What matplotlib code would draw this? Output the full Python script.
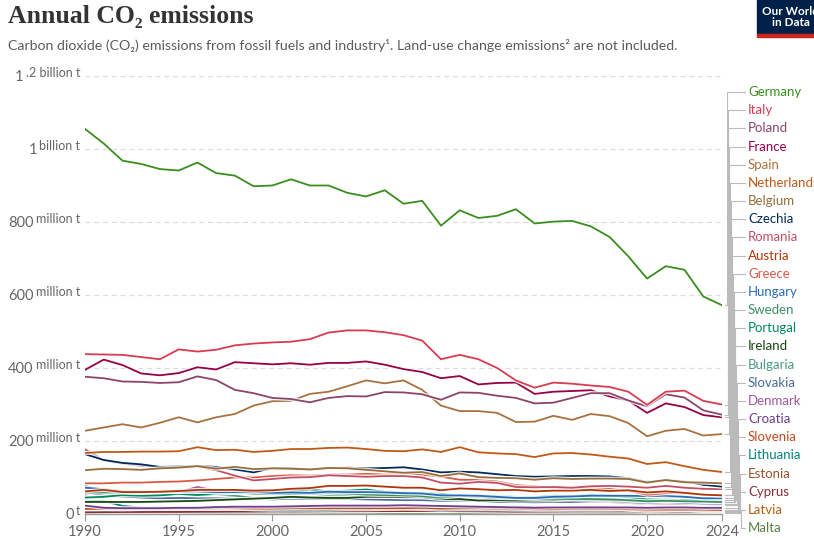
import matplotlib
matplotlib.use("Agg")
import matplotlib.pyplot as plt
import matplotlib.patheffects as pe
from matplotlib.lines import Line2D
from matplotlib.patches import Rectangle

years = list(range(1990, 2025))

# annual CO2 emissions, million tonnes
germany = [1055, 1015, 968, 959, 945, 941, 963, 934, 927, 898,
           900, 917, 900, 900, 880, 870, 887, 850, 858, 790,
           832, 811, 817, 835, 796, 801, 803, 788, 759, 706,
           645, 679, 669, 596, 572]
italy = [438, 437, 436, 430, 424, 451, 445, 450, 462, 467,
         470, 472, 479, 497, 503, 503, 498, 490, 475, 424,
         436, 424, 400, 366, 346, 360, 357, 352, 348, 335,
         299, 335, 338, 310, 300]
poland = [376, 372, 363, 362, 359, 361, 377, 367, 340, 331,
          318, 315, 306, 318, 323, 322, 334, 333, 328, 313,
          333, 332, 324, 318, 303, 305, 318, 331, 331, 311,
          295, 328, 319, 284, 272]
france = [395, 423, 408, 385, 380, 386, 402, 396, 416, 413,
          410, 413, 409, 414, 414, 418, 409, 397, 389, 372,
          378, 355, 359, 360, 329, 335, 337, 339, 322, 311,
          277, 303, 293, 271, 265]
spain = [228, 237, 246, 237, 250, 265, 251, 265, 274, 297,
         309, 310, 329, 335, 350, 366, 358, 366, 340, 297,
         282, 282, 277, 252, 253, 269, 258, 274, 268, 249,
         213, 228, 233, 215, 219]
netherlands = [167, 170, 170, 171, 171, 172, 183, 175, 176, 170,
               173, 178, 178, 181, 182, 178, 173, 172, 177, 170,
               183, 169, 166, 164, 156, 166, 167, 163, 157, 152,
               137, 142, 131, 121, 115]
belgium = [120, 124, 123, 121, 125, 127, 131, 124, 129, 123,
           125, 124, 122, 126, 125, 121, 117, 113, 115, 104,
           111, 101, 99, 98, 94, 98, 96, 97, 97, 96,
           86, 93, 87, 86, 84]
czechia = [164, 148, 140, 136, 129, 130, 132, 129, 122, 114,
           126, 126, 122, 126, 127, 125, 126, 128, 122, 114,
           116, 114, 109, 104, 102, 103, 104, 104, 103, 98,
           88, 93, 89, 80, 75]
romania = [177, 147, 138, 132, 128, 128, 130, 120, 105, 92,
           96, 100, 101, 106, 104, 102, 104, 104, 100, 86,
           83, 88, 85, 74, 73, 74, 72, 76, 77, 75,
           72, 77, 72, 69, 68]
austria = [62, 66, 60, 60, 61, 63, 66, 66, 66, 64,
           65, 69, 71, 77, 77, 78, 75, 72, 72, 65,
           70, 68, 65, 66, 62, 64, 64, 66, 63, 65,
           59, 62, 58, 53, 51]
greece = [84, 84, 86, 86, 88, 89, 92, 96, 100, 100,
          104, 106, 105, 108, 108, 110, 108, 112, 108, 102,
          94, 93, 89, 79, 76, 71, 68, 71, 69, 63,
          53, 57, 57, 53, 51]
hungary = [72, 68, 62, 62, 60, 61, 62, 60, 60, 61,
           58, 59, 58, 61, 60, 60, 59, 57, 56, 51,
           51, 50, 47, 44, 44, 47, 48, 50, 50, 50,
           49, 50, 47, 43, 43]
sweden = [59, 59, 59, 58, 61, 60, 63, 58, 59, 56,
          55, 55, 56, 57, 56, 53, 52, 51, 49, 45,
          50, 47, 44, 43, 41, 42, 41, 41, 40, 38,
          35, 36, 35, 34, 33]
portugal = [45, 47, 52, 50, 51, 55, 52, 55, 58, 64,
            63, 63, 67, 62, 64, 67, 61, 59, 57, 55,
            50, 49, 48, 47, 46, 50, 49, 53, 50, 46,
            40, 38, 39, 35, 34]
ireland = [33, 33, 33, 33, 34, 35, 36, 38, 40, 42,
           44, 47, 45, 44, 44, 47, 47, 46, 46, 41,
           41, 37, 38, 37, 37, 38, 40, 39, 38, 37,
           34, 36, 36, 33, 32]
bulgaria = [78, 58, 55, 56, 54, 56, 56, 53, 50, 44,
            45, 48, 46, 50, 50, 51, 52, 56, 53, 45,
            47, 53, 48, 42, 45, 48, 45, 48, 44, 43,
            38, 43, 49, 38, 37]
slovakia = [60, 52, 48, 45, 43, 44, 43, 43, 42, 42,
            40, 42, 41, 41, 41, 40, 39, 38, 38, 36,
            37, 36, 33, 33, 32, 33, 33, 35, 35, 33,
            30, 33, 31, 29, 28]
denmark = [53, 63, 57, 59, 63, 60, 74, 64, 60, 57,
           53, 54, 54, 59, 53, 50, 58, 54, 51, 48,
           49, 44, 40, 42, 37, 35, 36, 33, 33, 30,
           28, 29, 28, 27, 26]
croatia = [23, 17, 16, 16, 16, 17, 17, 19, 20, 20,
           20, 21, 22, 23, 23, 23, 23, 24, 23, 22,
           21, 20, 19, 18, 17, 18, 18, 18, 18, 18,
           17, 18, 18, 17, 17]
slovenia = [14, 14, 13, 14, 14, 15, 15, 16, 16, 15,
            15, 16, 16, 16, 16, 16, 16, 16, 17, 15,
            16, 16, 15, 15, 13, 13, 14, 14, 14, 13,
            12, 12, 12, 12, 11]
lithuania = [36, 36, 22, 17, 15, 15, 15, 14, 15, 13,
             12, 12, 12, 12, 13, 13, 14, 15, 14, 12,
             13, 13, 13, 12, 12, 12, 12, 12, 12, 13,
             13, 13, 12, 12, 12]
estonia = [36, 34, 23, 18, 19, 17, 18, 17, 16, 15,
           15, 15, 15, 17, 17, 17, 16, 20, 18, 15,
           19, 19, 18, 20, 19, 16, 17, 19, 18, 12,
           9, 10, 12, 8, 8]
cyprus = [4.6, 5.0, 5.4, 5.5, 5.7, 5.6, 6.0, 6.1, 6.4, 6.5,
          7.0, 6.8, 7.0, 7.5, 7.6, 7.7, 7.8, 8.0, 8.2, 8.0,
          7.7, 7.4, 6.9, 6.3, 6.6, 6.7, 7.0, 7.1, 7.0, 7.0,
          6.5, 6.7, 6.8, 6.7, 6.7]
latvia = [19, 18, 14, 11, 10, 9, 9, 8.5, 8, 7.5,
          7, 7.3, 7.2, 7.5, 7.5, 7.6, 8, 8.3, 8, 7.5,
          8.3, 7.7, 7.5, 7.5, 7.2, 7.2, 7.2, 7.3, 7.8, 7.5,
          6.9, 7.1, 6.8, 6.4, 6.3]
malta = [2.3, 2.4, 2.5, 2.6, 2.6, 2.5, 2.5, 2.6, 2.5, 2.5,
         2.4, 2.5, 2.6, 2.7, 2.7, 2.8, 2.7, 2.8, 2.8, 2.6,
         2.6, 2.6, 2.7, 2.4, 2.3, 1.6, 1.5, 1.6, 1.6, 1.7,
         1.6, 1.6, 1.7, 1.6, 1.6]

countries = ["Germany", "Italy", "Poland", "France", "Spain", "Netherlands",
             "Belgium", "Czechia", "Romania", "Austria", "Greece", "Hungary",
             "Sweden", "Portugal", "Ireland", "Bulgaria", "Slovakia", "Denmark",
             "Croatia", "Slovenia", "Lithuania", "Estonia", "Cyprus", "Latvia",
             "Malta"]
series = [germany, italy, poland, france, spain, netherlands, belgium, czechia,
          romania, austria, greece, hungary, sweden, portugal, ireland, bulgaria,
          slovakia, denmark, croatia, slovenia, lithuania, estonia, cyprus,
          latvia, malta]
colors = ["#3a8e1e", "#d73c50", "#8c4569", "#970046", "#a8723e", "#c05917",
          "#996d39", "#00295b", "#c15065", "#b13507", "#d65a45", "#286bbb",
          "#3b9063", "#00875e", "#18470f", "#4c9a84", "#4c6a9c", "#a2559c",
          "#6d3e91", "#c24a1c", "#00847e", "#9a5129", "#883039", "#b16214",
          "#578145"]

yticks = [0, 200, 400, 600, 800, 1000, 1200]
ytick_num = ["0", "200", "400", "600", "800", "1", "1"]
ytick_unit = ["t", "million t", "million t", "million t", "million t",
              "billion t", ".2 billion t"]
xticks = [1990, 1995, 2000, 2005, 2010, 2015, 2020, 2024]

plt.rcParams['font.family'] = ['Lato', 'DejaVu Sans']

W, H = 814, 538
fig = plt.figure(figsize=(W / 100, H / 100), dpi=100)
ax = fig.add_axes([85 / W, 1 - 514 / H, (722 - 85) / W, (514 - 76) / H])

halo = [pe.Stroke(linewidth=3.0, foreground="white", alpha=0.8), pe.Normal()]
for name, vals, c in reversed(list(zip(countries, series, colors))):
    ax.plot(years, vals, color=c, lw=1.3, path_effects=halo, zorder=3)

ax.set_xlim(1990, 2024)
ax.set_ylim(0, 1200)
ax.set_xticks(xticks)
ax.set_xticklabels([str(x) for x in xticks], fontsize=10.5, color="#666666")
ax.tick_params(axis="x", length=5, color="#999999", pad=3)
ax.set_yticks(yticks)
ax.set_yticklabels([])
ax.tick_params(axis="y", length=0)
for v in yticks[1:]:
    ax.axhline(v, color="#dddddd", lw=0.9, ls=(0, (4, 3)), zorder=1)
for s in ["top", "right", "left"]:
    ax.spines[s].set_visible(False)
ax.spines["bottom"].set_color("#999999")
ax.spines["bottom"].set_linewidth(1.0)

# y labels: big number + smaller raised unit
fig.canvas.draw()
r = fig.canvas.get_renderer()
for v, num, unit in zip(yticks, ytick_num, ytick_unit):
    t = ax.annotate(unit, xy=(0, v), xycoords=("axes fraction", "data"),
                    xytext=(-5, 3), textcoords="offset pixels",
                    ha="right", va="center", fontsize=9, color="#666666")
    w = t.get_window_extent(renderer=r).width
    ax.annotate(num, xy=(0, v), xycoords=("axes fraction", "data"),
                xytext=(-5 - w - 2, -1), textcoords="offset pixels",
                ha="right", va="center", fontsize=10.5, color="#666666")

# end labels with connector lines
inv = fig.transFigure.inverted()
for i, (name, vals, c) in enumerate(zip(countries, series, colors)):
    ly = 92 + i * 18.17
    ex, ey = ax.transData.transform((2024, vals[-1]))
    bx = 727 + 0.6 * i
    xs = [ex + 3, bx, bx, 745]
    ys = [ey, ey, H - ly, H - ly]
    pts = inv.transform(list(zip(xs, ys)))
    fig.add_artist(Line2D(pts[:, 0], pts[:, 1], transform=fig.transFigure,
                          color="#bbbbbb", lw=0.8, zorder=1))
    fig.text(748 / W, 1 - ly / H, name, color=c, fontsize=9.5,
             ha="left", va="center")

# title and subtitle
fig.text(8 / W, 1 - 17 / H, "Annual CO₂ emissions", fontsize=18.5,
         family=["Liberation Serif", "DejaVu Serif"], weight="bold",
         color="#333333", ha="left", va="center")
fig.text(8 / W, 1 - 46 / H,
         "Carbon dioxide (CO₂) emissions from fossil fuels and industry¹. "
         "Land-use change emissions² are not included.",
         fontsize=10.2, color="#5b5b5b", ha="left", va="center")

# logo
fig.add_artist(Rectangle((757 / W, 1 - 34 / H), 60 / W, 34 / H,
                         transform=fig.transFigure, color="#002147"))
fig.add_artist(Rectangle((757 / W, 1 - 37 / H), 60 / W, 3 / H,
                         transform=fig.transFigure, color="#ce261e"))
fig.text(791 / W, 1 - 17 / H, "Our World\nin Data", color="white",
         fontsize=8.5, weight="bold", ha="center", va="center",
         linespacing=1.0)

fig.savefig("out.png", dpi=100)
